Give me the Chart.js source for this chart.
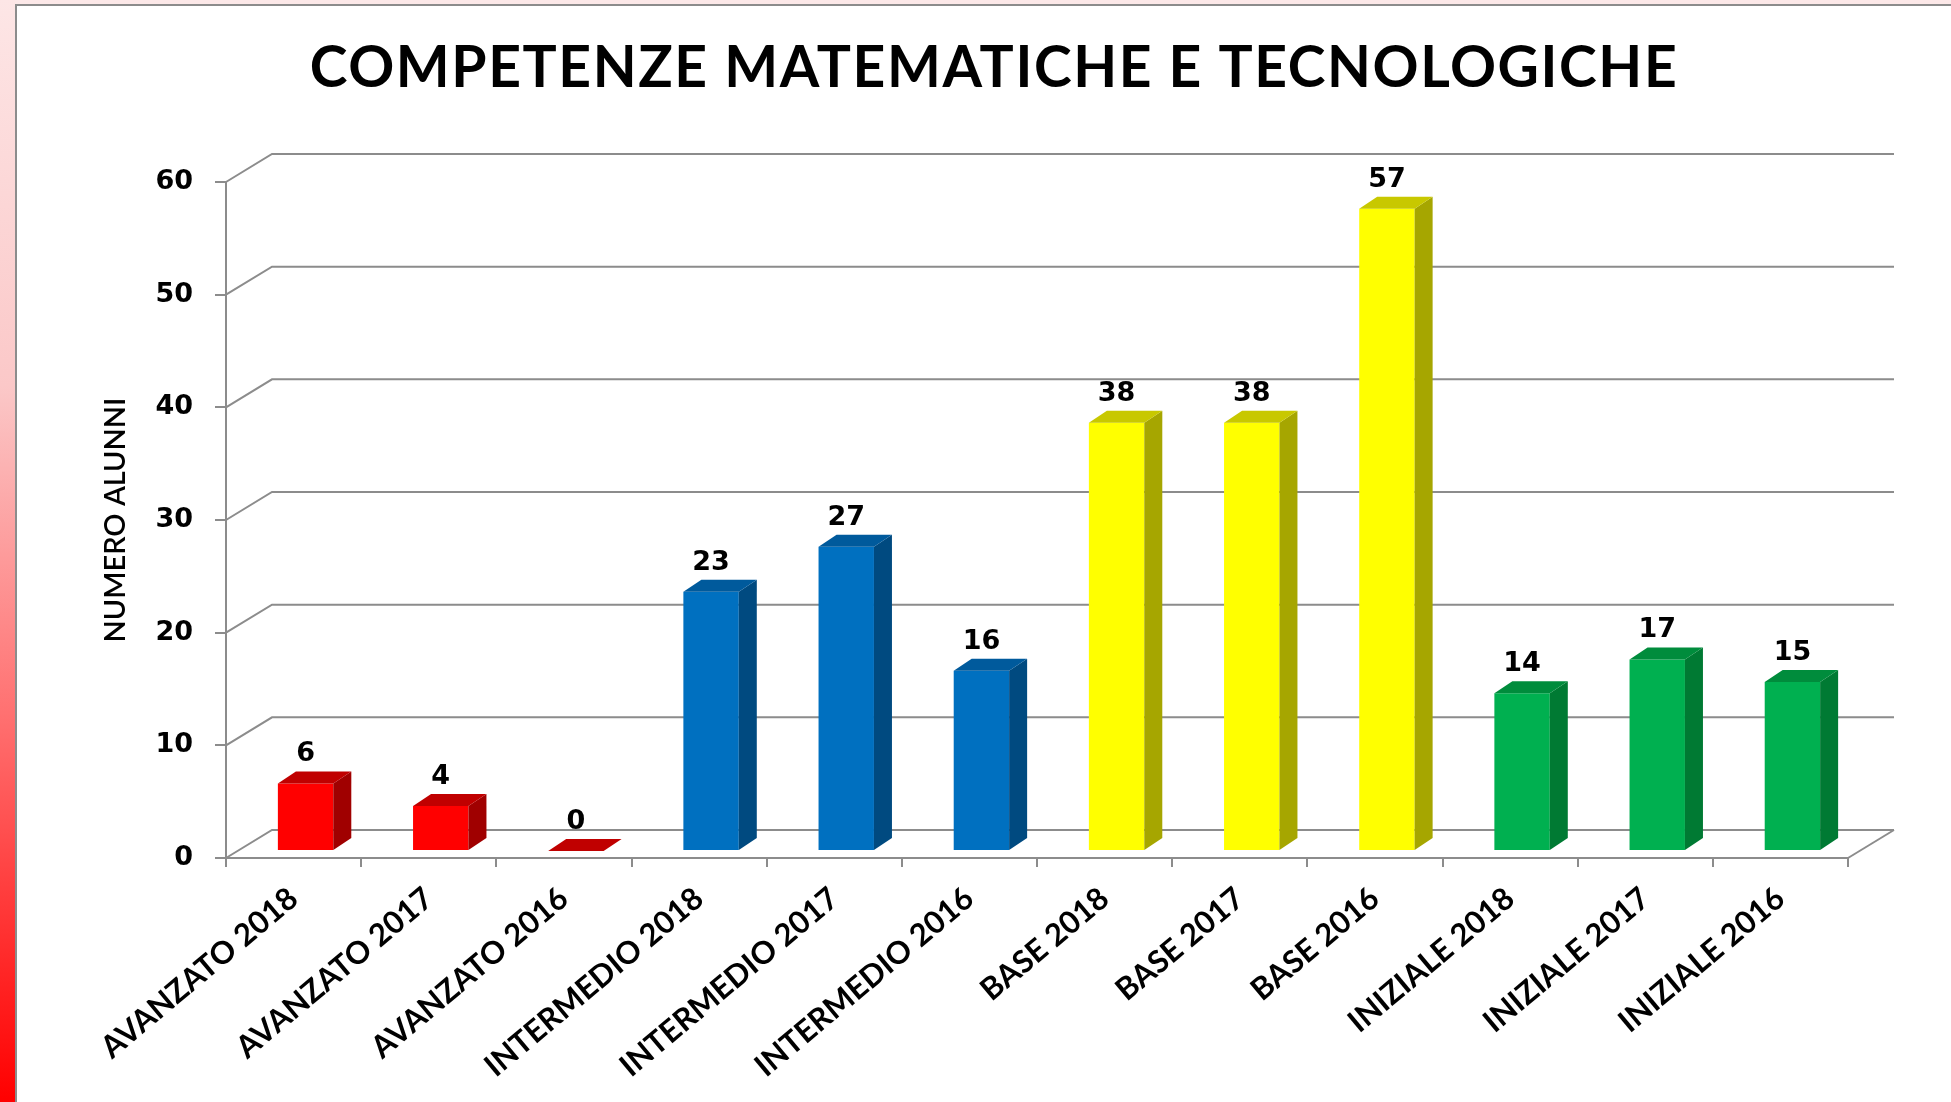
<!DOCTYPE html>
<html>
<head>
<meta charset="utf-8">
<script src="https://cdn.jsdelivr.net/npm/chart.js@4.4.1/dist/chart.umd.min.js"></script>
<style>
  html, body { margin: 0; padding: 0; width: 1951px; height: 1102px; overflow: hidden; background: #fce8e8; }
  #strip { position: absolute; left: 0; top: 0; width: 15px; height: 1102px;
    background: linear-gradient(to bottom, #fde6e6 0%, #fbc8c8 35%, #ff7070 65%, #ff0000 100%); }
  #panel { position: absolute; left: 15px; top: 4px; right: 0; bottom: 0; background: #fff;
    border-left: 2px solid #8c8c8c; border-top: 2px solid #8c8c8c; }
  canvas { position: absolute; left: 0; top: 0; }
</style>
</head>
<body>
<div id="strip"></div>
<div id="panel"></div>
<canvas id="chart" width="1951" height="1102"></canvas>
<script>
const title = "COMPETENZE MATEMATICHE E TECNOLOGICHE";
const yTitle = "NUMERO ALUNNI";
const categories = [
  "AVANZATO 2018", "AVANZATO 2017", "AVANZATO 2016",
  "INTERMEDIO 2018", "INTERMEDIO 2017", "INTERMEDIO 2016",
  "BASE 2018", "BASE 2017", "BASE 2016",
  "INIZIALE 2018", "INIZIALE 2017", "INIZIALE 2016"
];
const values = [6, 4, 0, 23, 27, 16, 38, 38, 57, 14, 17, 15];
const yMin = 0, yMax = 60, yStep = 10;

// colours per bar: front face, side face, top face
const frontColors = ["#ff0000", "#ff0000", "#ff0000", "#0070c0", "#0070c0", "#0070c0",
  "#ffff00", "#ffff00", "#ffff00", "#00b050", "#00b050", "#00b050"];
const sideColors = ["#a00000", "#a00000", "#a00000", "#004a80", "#004a80", "#004a80",
  "#a6a600", "#a6a600", "#a6a600", "#007a33", "#007a33", "#007a33"];
const topColors = ["#c00000", "#c00000", "#c00000", "#005a9c", "#005a9c", "#005a9c",
  "#c8c800", "#c8c800", "#c8c800", "#008c3c", "#008c3c", "#008c3c"];

const FONT = "Lato";
const NUM_FONT = "'DejaVu Sans'";
const GRID = "#8c8c8c";
const WALL = { dx: 46, dy: -28 };      // depth of the back wall
const SHIFT = { dx: 12, dy: -7 };      // bars sit inside the floor
const BAR = { dx: 18, dy: -12 };       // bar depth

function poly(ctx, pts, color) {
  ctx.beginPath();
  ctx.moveTo(pts[0][0], pts[0][1]);
  for (let i = 1; i < pts.length; i++) ctx.lineTo(pts[i][0], pts[i][1]);
  ctx.closePath();
  ctx.fillStyle = color;
  ctx.fill();
}

const fake3d = {
  id: "fake3d",
  beforeDatasetsDraw(chart) {
    const { ctx, chartArea: a, scales: { y } } = chart;
    ctx.save();
    ctx.strokeStyle = GRID;
    ctx.lineWidth = 2;
    for (let v = yMin; v <= yMax; v += yStep) {
      const py = y.getPixelForValue(v);
      ctx.beginPath();
      ctx.moveTo(a.left, py);
      ctx.lineTo(a.left + WALL.dx, py + WALL.dy);
      ctx.lineTo(a.right + WALL.dx, py + WALL.dy);
      ctx.stroke();
    }
    // right edge of the floor
    ctx.beginPath();
    ctx.moveTo(a.right, a.bottom);
    ctx.lineTo(a.right + WALL.dx, a.bottom + WALL.dy);
    ctx.stroke();
    ctx.restore();
    ctx.save();
    ctx.translate(SHIFT.dx, SHIFT.dy);
  },
  afterDatasetsDraw(chart) {
    const { ctx } = chart;
    const bars = chart.getDatasetMeta(0).data;
    bars.forEach((b, i) => {
      const l = b.x - b.width / 2, r = b.x + b.width / 2;
      poly(ctx, [[r, b.y], [r + BAR.dx, b.y + BAR.dy], [r + BAR.dx, b.base + BAR.dy], [r, b.base]], sideColors[i]);
      poly(ctx, [[l, b.y], [l + BAR.dx, b.y + BAR.dy], [r + BAR.dx, b.y + BAR.dy], [r, b.y]], topColors[i]);
    });
    ctx.restore();
    ctx.save();
    ctx.fillStyle = "#000";
    ctx.font = "bold 27px " + NUM_FONT;
    ctx.textAlign = "center";
    ctx.textBaseline = "alphabetic";
    bars.forEach((b, i) => {
      ctx.fillText(String(values[i]), b.x + SHIFT.dx, b.y + SHIFT.dy - 22);
    });
    // chart title
    ctx.font = "bold 57px " + FONT;
    ctx.letterSpacing = "1.6px";
    ctx.fillText(title, 994, 87);
    ctx.restore();
  }
};

new Chart(document.getElementById("chart"), {
  type: "bar",
  data: {
    labels: categories,
    datasets: [{
      data: values,
      backgroundColor: frontColors,
      borderWidth: 0,
      barPercentage: 0.41,
      categoryPercentage: 1
    }]
  },
  options: {
    responsive: false,
    animation: false,
    layout: { padding: { top: 182, right: 103, left: 0, bottom: 0 } },
    plugins: {
      legend: { display: false },
      tooltip: { enabled: false }
    },
    scales: {
      x: {
        grid: { offset: true, drawOnChartArea: false, tickLength: 9, color: GRID, lineWidth: 2 },
        border: { color: GRID, width: 2 },
        ticks: {
          autoSkip: false, minRotation: 40, maxRotation: 40, padding: 13,
          color: "#000", font: { family: FONT, size: 31, weight: "bold" }
        },
        afterFit(scale) { scale.height = 244; }
      },
      y: {
        min: yMin, max: yMax,
        grid: { drawOnChartArea: false, tickLength: 11, color: GRID, lineWidth: 2 },
        border: { color: GRID, width: 2 },
        ticks: {
          stepSize: yStep, padding: 22,
          color: "#000", font: { family: NUM_FONT, size: 27, weight: "bold" }
        },
        title: {
          display: true, text: yTitle, color: "#000",
          font: { family: FONT, size: 29, weight: "600" },
          padding: { top: 98, bottom: 0 }
        },
        afterFit(scale) { scale.width = 226; }
      }
    }
  },
  plugins: [fake3d]
});
</script>
</body>
</html>
